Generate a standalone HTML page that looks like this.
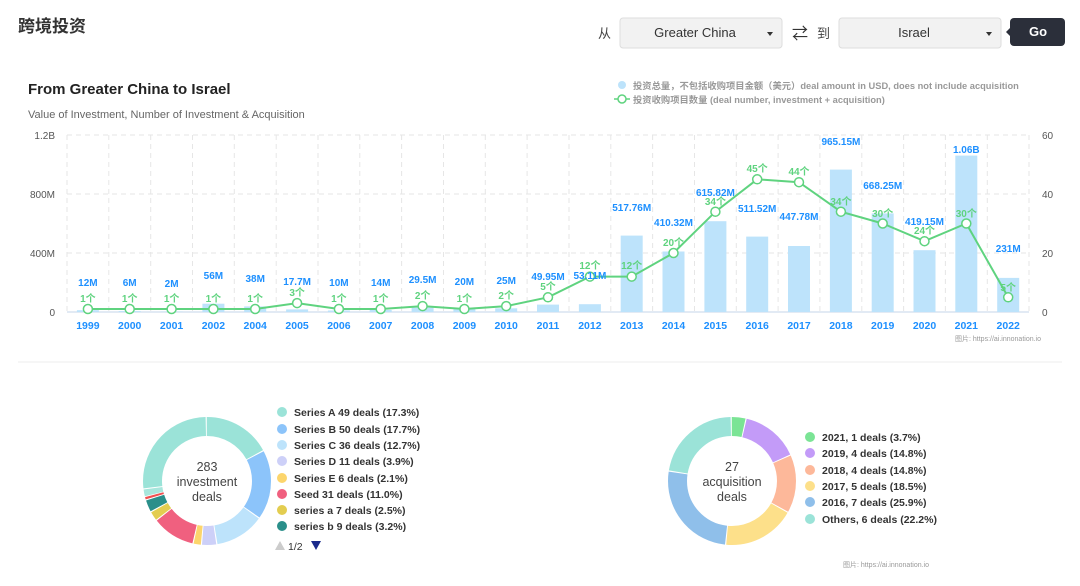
<!DOCTYPE html>
<html><head><meta charset="utf-8"><style>
body{margin:0;background:#fff;width:1080px;height:581px;overflow:hidden;font-family:"Liberation Sans","Noto Sans CJK SC",sans-serif}
</style></head><body>
<svg width="1080" height="581" viewBox="0 0 1080 581" xmlns="http://www.w3.org/2000/svg" font-family="Liberation Sans, Noto Sans CJK SC, sans-serif">
<text x="18" y="32" font-size="17" font-weight="bold" fill="#333">跨境投资</text>
<text x="598" y="38" font-size="13" fill="#444">从</text>
<rect x="620" y="18" width="162" height="30" rx="3" fill="#f2f2f2" stroke="#ddd"/>
<text x="695" y="37" font-size="13" fill="#333" text-anchor="middle">Greater China</text>
<path d="M767 32 l6 0 l-3 4z" fill="#333"/>
<text x="800" y="39" font-size="16" fill="#333" text-anchor="middle">⇄</text>
<text x="817" y="38" font-size="13" fill="#444">到</text>
<rect x="839" y="18" width="162" height="30" rx="3" fill="#f2f2f2" stroke="#ddd"/>
<text x="914" y="37" font-size="13" fill="#333" text-anchor="middle">Israel</text>
<path d="M986 32 l6 0 l-3 4z" fill="#333"/>
<rect x="1010" y="18" width="55" height="28" rx="4" fill="#2b2f3a"/>
<path d="M1010 28 l-4 4 l4 4z" fill="#2b2f3a"/>
<text x="1038" y="36" font-size="13" font-weight="bold" fill="#fff" text-anchor="middle">Go</text>

<text x="28" y="94" font-size="15" font-weight="bold" fill="#222">From Greater China to Israel</text>
<text x="28" y="118" font-size="11" fill="#666">Value of Investment, Number of Investment &amp; Acquisition</text>

<circle cx="622" cy="85" r="4" fill="#bde3fb"/>
<text x="633" y="89" font-size="9.3" font-weight="bold" fill="#999">投资总量，不包括收购项目金额（美元）deal amount in USD, does not include acquisition</text>
<line x1="614" y1="99" x2="630" y2="99" stroke="#5fd37f" stroke-width="1.5"/>
<circle cx="622" cy="99" r="4" fill="#fff" stroke="#5fd37f" stroke-width="1.5"/>
<text x="633" y="103" font-size="9.3" font-weight="bold" fill="#999">投资收购项目数量 (deal number, investment + acquisition)</text>

<g stroke="#e6e6e6" stroke-dasharray="5,4" stroke-width="1">
<line x1="67" y1="135" x2="1029" y2="135"/><line x1="67" y1="194" x2="1029" y2="194"/><line x1="67" y1="253" x2="1029" y2="253"/>
<line x1="67" y1="135" x2="67" y2="312"/><line x1="108.8" y1="135" x2="108.8" y2="312"/><line x1="150.7" y1="135" x2="150.7" y2="312"/><line x1="192.5" y1="135" x2="192.5" y2="312"/><line x1="234.3" y1="135" x2="234.3" y2="312"/><line x1="276.2" y1="135" x2="276.2" y2="312"/><line x1="318" y1="135" x2="318" y2="312"/><line x1="359.8" y1="135" x2="359.8" y2="312"/><line x1="401.6" y1="135" x2="401.6" y2="312"/><line x1="443.5" y1="135" x2="443.5" y2="312"/><line x1="485.3" y1="135" x2="485.3" y2="312"/><line x1="527.1" y1="135" x2="527.1" y2="312"/><line x1="569" y1="135" x2="569" y2="312"/><line x1="610.8" y1="135" x2="610.8" y2="312"/><line x1="652.6" y1="135" x2="652.6" y2="312"/><line x1="694.5" y1="135" x2="694.5" y2="312"/><line x1="736.3" y1="135" x2="736.3" y2="312"/><line x1="778.1" y1="135" x2="778.1" y2="312"/><line x1="819.9" y1="135" x2="819.9" y2="312"/><line x1="861.8" y1="135" x2="861.8" y2="312"/><line x1="903.6" y1="135" x2="903.6" y2="312"/><line x1="945.4" y1="135" x2="945.4" y2="312"/><line x1="987.3" y1="135" x2="987.3" y2="312"/><line x1="1029" y1="135" x2="1029" y2="312"/>
</g>
<line x1="67" y1="312" x2="1029" y2="312" stroke="#d8e4f0" stroke-width="1.5"/>
<g font-size="10" fill="#555" text-anchor="end">
<text x="55" y="139">1.2B</text><text x="55" y="198">800M</text><text x="55" y="257">400M</text><text x="55" y="316">0</text>
</g>
<g font-size="10" fill="#555">
<text x="1042" y="139">60</text><text x="1042" y="198">40</text><text x="1042" y="257">20</text><text x="1042" y="316">0</text>
</g>
<g fill="#bde3fb">
<rect x="76.9" y="310.2" width="22" height="1.8"/><rect x="118.7" y="311.1" width="22" height="0.9"/><rect x="160.6" y="311.7" width="22" height="0.3"/><rect x="202.4" y="303.7" width="22" height="8.3"/><rect x="244.2" y="306.4" width="22" height="5.6"/><rect x="286.1" y="309.4" width="22" height="2.6"/><rect x="327.9" y="310.5" width="22" height="1.5"/><rect x="369.7" y="309.9" width="22" height="2.1"/><rect x="411.6" y="307.6" width="22" height="4.4"/><rect x="453.4" y="309" width="22" height="3"/><rect x="495.2" y="308.3" width="22" height="3.7"/><rect x="537" y="304.6" width="22" height="7.4"/><rect x="578.9" y="304.2" width="22" height="7.8"/><rect x="620.7" y="235.6" width="22" height="76.4"/><rect x="662.5" y="251.5" width="22" height="60.5"/><rect x="704.4" y="221.2" width="22" height="90.8"/><rect x="746.2" y="236.6" width="22" height="75.4"/><rect x="788" y="246" width="22" height="66"/><rect x="829.9" y="169.6" width="22" height="142.4"/><rect x="871.7" y="213.4" width="22" height="98.6"/><rect x="913.5" y="250.2" width="22" height="61.8"/><rect x="955.3" y="155.6" width="22" height="156.4"/><rect x="997.2" y="277.9" width="22" height="34.1"/>
</g>
<polyline fill="none" stroke="#5fd37f" stroke-width="2" points="87.9,309 129.7,309 171.6,309 213.4,309 255.2,309 297.1,303.1 338.9,309 380.7,309 422.6,306.1 464.4,309 506.2,306.1 548,297.3 589.9,276.6 631.7,276.6 673.5,253 715.4,211.7 757.2,179.3 799,182.2 840.9,211.7 882.7,223.5 924.5,241.2 966.3,223.5 1008.2,297.3"/>
<g fill="#fff" stroke="#5fd37f" stroke-width="1.5">
<circle cx="87.9" cy="309" r="4.5"/><circle cx="129.7" cy="309" r="4.5"/><circle cx="171.6" cy="309" r="4.5"/><circle cx="213.4" cy="309" r="4.5"/><circle cx="255.2" cy="309" r="4.5"/><circle cx="297.1" cy="303.1" r="4.5"/><circle cx="338.9" cy="309" r="4.5"/><circle cx="380.7" cy="309" r="4.5"/><circle cx="422.6" cy="306.1" r="4.5"/><circle cx="464.4" cy="309" r="4.5"/><circle cx="506.2" cy="306.1" r="4.5"/><circle cx="548" cy="297.3" r="4.5"/><circle cx="589.9" cy="276.6" r="4.5"/><circle cx="631.7" cy="276.6" r="4.5"/><circle cx="673.5" cy="253" r="4.5"/><circle cx="715.4" cy="211.7" r="4.5"/><circle cx="757.2" cy="179.3" r="4.5"/><circle cx="799" cy="182.2" r="4.5"/><circle cx="840.9" cy="211.7" r="4.5"/><circle cx="882.7" cy="223.5" r="4.5"/><circle cx="924.5" cy="241.2" r="4.5"/><circle cx="966.3" cy="223.5" r="4.5"/><circle cx="1008.2" cy="297.3" r="4.5"/>
</g>
<g font-size="10" font-weight="bold" fill="#5fd37f" text-anchor="middle">
<text x="87.9" y="302">1个</text><text x="129.7" y="302">1个</text><text x="171.6" y="302">1个</text><text x="213.4" y="302">1个</text><text x="255.2" y="302">1个</text><text x="297.1" y="296">3个</text><text x="338.9" y="302">1个</text><text x="380.7" y="302">1个</text><text x="422.6" y="299">2个</text><text x="464.4" y="302">1个</text><text x="506.2" y="299">2个</text><text x="548" y="290">5个</text><text x="589.9" y="269">12个</text><text x="631.7" y="269">12个</text><text x="673.5" y="246">20个</text><text x="715.4" y="205">34个</text><text x="757.2" y="172">45个</text><text x="799" y="175">44个</text><text x="840.9" y="205">34个</text><text x="882.7" y="217">30个</text><text x="924.5" y="234">24个</text><text x="966.3" y="217">30个</text><text x="1008.2" y="291">5个</text>
</g>
<g font-size="10" font-weight="bold" fill="#1e90ff" text-anchor="middle">
<text x="87.9" y="286">12M</text><text x="129.7" y="286">6M</text><text x="171.6" y="287">2M</text><text x="213.4" y="279">56M</text><text x="255.2" y="282">38M</text><text x="297.1" y="285">17.7M</text><text x="338.9" y="286">10M</text><text x="380.7" y="286">14M</text><text x="422.6" y="283">29.5M</text><text x="464.4" y="285">20M</text><text x="506.2" y="284">25M</text><text x="548" y="280">49.95M</text><text x="589.9" y="279">53.11M</text><text x="631.7" y="211">517.76M</text><text x="673.5" y="226">410.32M</text><text x="715.4" y="196">615.82M</text><text x="757.2" y="212">511.52M</text><text x="799" y="220">447.78M</text><text x="840.9" y="145">965.15M</text><text x="882.7" y="189">668.25M</text><text x="924.5" y="225">419.15M</text><text x="966.3" y="153">1.06B</text><text x="1008.2" y="252">231M</text>
</g>
<g font-size="10.5" font-weight="bold" fill="#1e90ff" text-anchor="middle">
<text x="87.9" y="329">1999</text><text x="129.7" y="329">2000</text><text x="171.6" y="329">2001</text><text x="213.4" y="329">2002</text><text x="255.2" y="329">2004</text><text x="297.1" y="329">2005</text><text x="338.9" y="329">2006</text><text x="380.7" y="329">2007</text><text x="422.6" y="329">2008</text><text x="464.4" y="329">2009</text><text x="506.2" y="329">2010</text><text x="548" y="329">2011</text><text x="589.9" y="329">2012</text><text x="631.7" y="329">2013</text><text x="673.5" y="329">2014</text><text x="715.4" y="329">2015</text><text x="757.2" y="329">2016</text><text x="799" y="329">2017</text><text x="840.9" y="329">2018</text><text x="882.7" y="329">2019</text><text x="924.5" y="329">2020</text><text x="966.3" y="329">2021</text><text x="1008.2" y="329">2022</text>
</g>
<text x="955" y="341" font-size="7" fill="#999">图片: https://ai.innonation.io</text>
<line x1="18" y1="362" x2="1062" y2="362" stroke="#eee"/>

<g transform="rotate(-90 207 481)" fill="none" stroke-width="19">
<circle cx="207" cy="481" r="54.5" pathLength="100" stroke="#9be3d8" stroke-dasharray="17 83" stroke-dashoffset="0"/>
<circle cx="207" cy="481" r="54.5" pathLength="100" stroke="#8cc4fa" stroke-dasharray="17.4 82.6" stroke-dashoffset="-17.3"/>
<circle cx="207" cy="481" r="54.5" pathLength="100" stroke="#bde3fb" stroke-dasharray="12.4 87.6" stroke-dashoffset="-35"/>
<circle cx="207" cy="481" r="54.5" pathLength="100" stroke="#cdd0f8" stroke-dasharray="3.6 96.4" stroke-dashoffset="-47.7"/>
<circle cx="207" cy="481" r="54.5" pathLength="100" stroke="#fcd56c" stroke-dasharray="1.8 98.2" stroke-dashoffset="-51.6"/>
<circle cx="207" cy="481" r="54.5" pathLength="100" stroke="#f0607f" stroke-dasharray="10.7 89.3" stroke-dashoffset="-53.7"/>
<circle cx="207" cy="481" r="54.5" pathLength="100" stroke="#e3cd50" stroke-dasharray="2.2 97.8" stroke-dashoffset="-64.7"/>
<circle cx="207" cy="481" r="54.5" pathLength="100" stroke="#2a8f8a" stroke-dasharray="2.9 97.1" stroke-dashoffset="-67.2"/>
<circle cx="207" cy="481" r="54.5" pathLength="100" stroke="#f05050" stroke-dasharray="0.6 99.4" stroke-dashoffset="-70.4"/>
<circle cx="207" cy="481" r="54.5" pathLength="100" stroke="#a8e6dc" stroke-dasharray="1.7 98.3" stroke-dashoffset="-71.2"/>
<circle cx="207" cy="481" r="54.5" pathLength="100" stroke="#9be3d8" stroke-dasharray="26.5 73.5" stroke-dashoffset="-73.2"/>
</g>
<g font-size="12.5" fill="#444" text-anchor="middle">
<text x="207" y="471">283</text><text x="207" y="486">investment</text><text x="207" y="501">deals</text>
</g>
<g font-size="10.5" font-weight="bold" fill="#333">
<circle cx="282" cy="412" r="5" fill="#9be3d8"/><text x="294" y="416">Series A 49 deals (17.3%)</text>
<circle cx="282" cy="429" r="5" fill="#8cc4fa"/><text x="294" y="433">Series B 50 deals (17.7%)</text>
<circle cx="282" cy="445" r="5" fill="#bde3fb"/><text x="294" y="449">Series C 36 deals (12.7%)</text>
<circle cx="282" cy="461" r="5" fill="#cdd0f8"/><text x="294" y="465">Series D 11 deals (3.9%)</text>
<circle cx="282" cy="478" r="5" fill="#fcd56c"/><text x="294" y="482">Series E 6 deals (2.1%)</text>
<circle cx="282" cy="494" r="5" fill="#f0607f"/><text x="294" y="498">Seed 31 deals (11.0%)</text>
<circle cx="282" cy="510" r="5" fill="#e3cd50"/><text x="294" y="514">series a 7 deals (2.5%)</text>
<circle cx="282" cy="526" r="5" fill="#2a8f8a"/><text x="294" y="530">series b 9 deals (3.2%)</text>
</g>
<path d="M275 550 l5 -9 l5 9z" fill="#ccc"/>
<text x="288" y="550" font-size="10.5" fill="#333">1/2</text>
<path d="M311 541 l10 0 l-5 9z" fill="#1a2a8c"/>

<g transform="rotate(-90 732 481)" fill="none" stroke-width="19">
<circle cx="732" cy="481" r="54.5" pathLength="100" stroke="#7be495" stroke-dasharray="3.4 96.6" stroke-dashoffset="0"/>
<circle cx="732" cy="481" r="54.5" pathLength="100" stroke="#c39bf8" stroke-dasharray="14.5 85.5" stroke-dashoffset="-3.7"/>
<circle cx="732" cy="481" r="54.5" pathLength="100" stroke="#fdb89a" stroke-dasharray="14.5 85.5" stroke-dashoffset="-18.5"/>
<circle cx="732" cy="481" r="54.5" pathLength="100" stroke="#fde08a" stroke-dasharray="18.2 81.8" stroke-dashoffset="-33.3"/>
<circle cx="732" cy="481" r="54.5" pathLength="100" stroke="#8fbfea" stroke-dasharray="25.6 74.4" stroke-dashoffset="-51.8"/>
<circle cx="732" cy="481" r="54.5" pathLength="100" stroke="#9be3d8" stroke-dasharray="22 78" stroke-dashoffset="-77.7"/>
</g>
<g font-size="12.5" fill="#444" text-anchor="middle">
<text x="732" y="471">27</text><text x="732" y="486">acquisition</text><text x="732" y="501">deals</text>
</g>
<g font-size="10.5" font-weight="bold" fill="#333">
<circle cx="810" cy="437" r="5" fill="#7be495"/><text x="822" y="441">2021, 1 deals (3.7%)</text>
<circle cx="810" cy="453" r="5" fill="#c39bf8"/><text x="822" y="457">2019, 4 deals (14.8%)</text>
<circle cx="810" cy="470" r="5" fill="#fdb89a"/><text x="822" y="474">2018, 4 deals (14.8%)</text>
<circle cx="810" cy="486" r="5" fill="#fde08a"/><text x="822" y="490">2017, 5 deals (18.5%)</text>
<circle cx="810" cy="502" r="5" fill="#8fbfea"/><text x="822" y="506">2016, 7 deals (25.9%)</text>
<circle cx="810" cy="519" r="5" fill="#9be3d8"/><text x="822" y="523">Others, 6 deals (22.2%)</text>
</g>
<text x="843" y="567" font-size="7" fill="#999">图片: https://ai.innonation.io</text>
</svg>
</body></html>
